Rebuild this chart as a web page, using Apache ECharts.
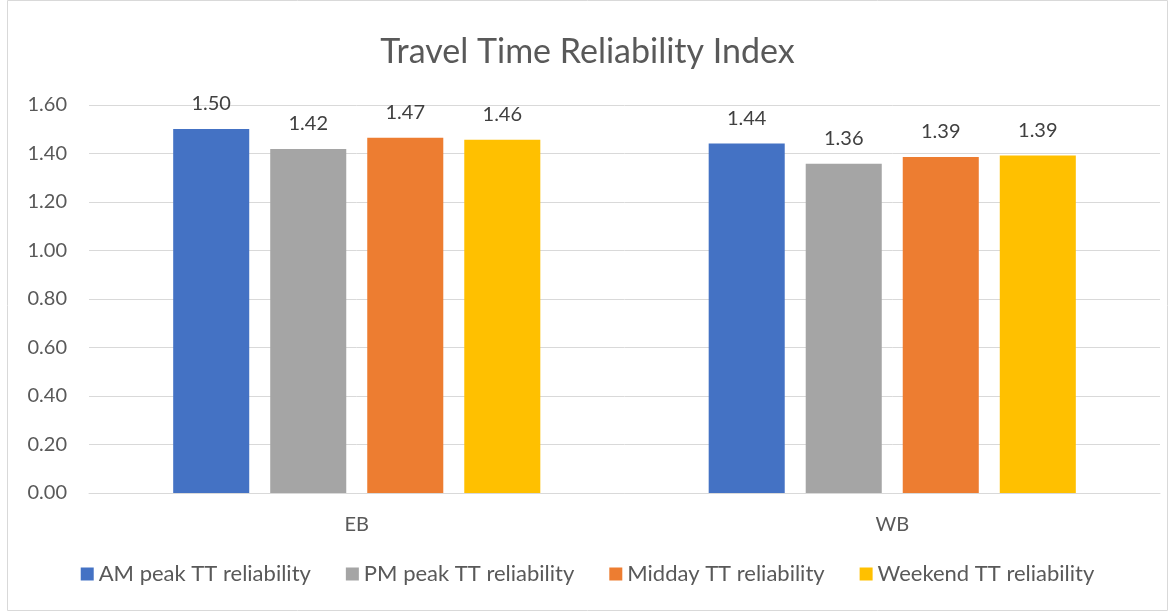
<!DOCTYPE html>
<html><head><meta charset="utf-8">
<script src="https://cdn.jsdelivr.net/npm/echarts@6/dist/echarts.min.js"></script>
<style>html,body{margin:0;padding:0;background:#fff}#c{width:1175px;height:612px}</style>
</head><body><div id="c"></div>
<script>
const categories = ['EB', 'WB'];
const seriesNames = ['AM peak TT reliability', 'PM peak TT reliability', 'Midday TT reliability', 'Weekend TT reliability'];
const amPeak = [1.501, 1.441];
const pmPeak = [1.419, 1.358];
const midday = [1.465, 1.386];
const weekend = [1.457, 1.392];
const colors = ['#4472C4', '#A5A5A5', '#ED7D31', '#FFC000'];
const seriesData = [amPeak, pmPeak, midday, weekend];
const FONT = 'Lato';
const chart = echarts.init(document.getElementById('c'));
chart.setOption({
  animation: false,
  textStyle: {fontFamily: FONT},
  title: {text: 'Travel Time Reliability Index', left: 'center', top: 30,
    textStyle: {fontFamily: FONT, fontSize: 34, fontWeight: 'normal', color: '#595959'}},
  legend: {bottom: 22, left: 'center', itemWidth: 13, itemHeight: 13, itemGap: 35, icon: 'rect',
    textStyle: {fontFamily: FONT, fontSize: 22, color: '#595959'}},
  grid: {left: 89, right: 15, top: 105, bottom: 119},
  xAxis: {type: 'category', data: categories,
    axisLine: {lineStyle: {color: '#D9D9D9', width: 1}}, axisTick: {show: false},
    axisLabel: {fontFamily: FONT, fontSize: 20, color: '#595959', margin: 22}},
  yAxis: {type: 'value', min: 0, max: 1.6, interval: 0.2,
    axisLine: {show: false}, axisTick: {show: false},
    splitLine: {lineStyle: {color: '#D9D9D9', width: 1}},
    axisLabel: {fontFamily: FONT, fontSize: 20, color: '#595959', margin: 22,
      formatter: v => v.toFixed(2)}},
  series: seriesData.map((d, i) => ({
    name: seriesNames[i], type: 'bar', data: d, barWidth: '14.2%', barGap: '27.6%',
    itemStyle: {color: colors[i]},
    label: {show: true, position: 'top', distance: 15, fontFamily: FONT, fontSize: 20, color: '#404040',
      formatter: p => p.value.toFixed(2)}
  })),
  graphic: [{type: 'rect', shape: {x: 7.5, y: 0.5, width: 1160, height: 610}, silent: true,
    style: {fill: 'none', stroke: '#D9D9D9', lineWidth: 1}}]
});
</script></body></html>
